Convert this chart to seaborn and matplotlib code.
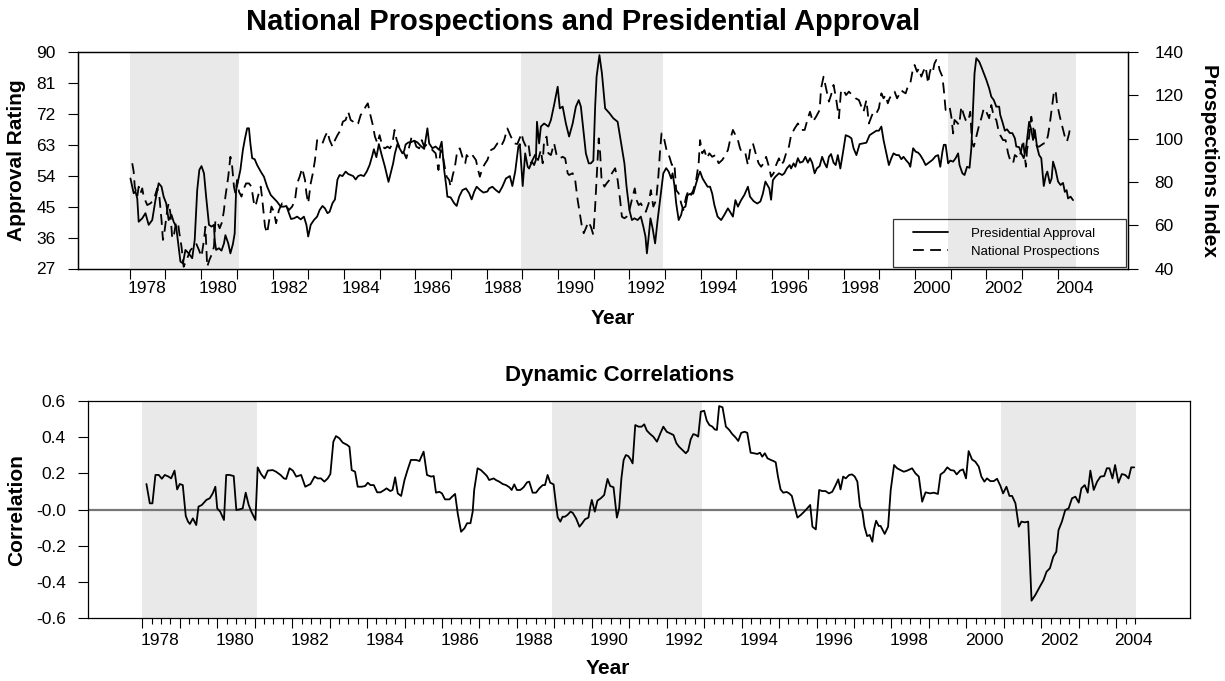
import matplotlib
matplotlib.use("Agg")
import matplotlib.pyplot as plt
import seaborn as sns
from matplotlib.lines import Line2D
from matplotlib.legend_handler import HandlerLine2D

sns.set_theme(style="white")
plt.rcParams['font.family'] = ['Liberation Sans', 'DejaVu Sans']
plt.rcParams.update({'text.color': 'black', 'axes.labelcolor': 'black',
                     'xtick.color': 'black', 'ytick.color': 'black'})

# ---------------- data ----------------
approval_year = [
    1978.02, 1978.11, 1978.16, 1978.21, 1978.25, 1978.35, 1978.44, 1978.53, 1978.63, 1978.72,
    1978.81, 1978.89, 1978.95, 1979.02, 1979.09, 1979.17, 1979.23, 1979.30, 1979.37, 1979.42,
    1979.49, 1979.56, 1979.65, 1979.75, 1979.82, 1979.89, 1979.95, 1980.01, 1980.08, 1980.14,
    1980.22, 1980.29, 1980.36, 1980.38, 1980.42, 1980.50, 1980.57, 1980.64, 1980.68, 1980.76,
    1980.82, 1980.89, 1980.94, 1980.98, 1981.04, 1981.10, 1981.17, 1981.23, 1981.29, 1981.34,
    1981.38, 1981.43, 1981.50, 1981.57, 1981.67, 1981.76, 1981.85, 1981.95, 1982.04, 1982.13,
    1982.23, 1982.32, 1982.39, 1982.46, 1982.52, 1982.60, 1982.69, 1982.79, 1982.88, 1982.95,
    1983.00, 1983.07, 1983.16, 1983.25, 1983.32, 1983.40, 1983.47, 1983.54, 1983.60, 1983.68,
    1983.75, 1983.82, 1983.88, 1983.96, 1984.05, 1984.12, 1984.19, 1984.26, 1984.33, 1984.40,
    1984.47, 1984.56, 1984.64, 1984.72, 1984.80, 1984.84, 1984.91, 1984.98, 1985.06, 1985.15,
    1985.25, 1985.31, 1985.38, 1985.43, 1985.50, 1985.56, 1985.64, 1985.69, 1985.73, 1985.81,
    1985.87, 1985.97, 1986.06, 1986.15, 1986.25, 1986.34, 1986.39, 1986.48, 1986.57, 1986.67,
    1986.74, 1986.81, 1986.87, 1986.90, 1986.99, 1987.09, 1987.16, 1987.23, 1987.32, 1987.42,
    1987.51, 1987.58, 1987.65, 1987.72, 1987.82, 1987.91, 1988.02,
    1988.07, 1988.16, 1988.26, 1988.35, 1988.44, 1988.54, 1988.65, 1988.72, 1988.80, 1988.89,
    1988.93, 1989.01, 1989.08, 1989.15, 1989.19, 1989.27, 1989.33, 1989.38, 1989.41, 1989.47,
    1989.52, 1989.61, 1989.73, 1989.80, 1989.89, 1989.99, 1990.05, 1990.13, 1990.22, 1990.31,
    1990.41, 1990.50, 1990.58, 1990.64, 1990.72, 1990.78, 1990.86, 1990.92, 1990.99, 1991.04,
    1991.08, 1991.16, 1991.23, 1991.32, 1991.44, 1991.55, 1991.67, 1991.76, 1991.86, 1991.92,
    1992.00, 1992.07, 1992.14, 1992.23, 1992.32, 1992.39, 1992.45, 1992.49, 1992.54, 1992.59,
    1992.65, 1992.72, 1992.79, 1992.87, 1992.95, 1993.03, 1993.10, 1993.17, 1993.21, 1993.26,
    1993.31, 1993.38, 1993.45, 1993.49, 1993.57, 1993.63, 1993.73, 1993.79, 1993.87, 1993.94,
    1993.98, 1994.05, 1994.13, 1994.19, 1994.26, 1994.32, 1994.38, 1994.47, 1994.57, 1994.66,
    1994.76, 1994.82, 1994.90, 1994.97, 1995.04, 1995.13, 1995.22, 1995.32, 1995.38, 1995.48,
    1995.58, 1995.67, 1995.74, 1995.81, 1995.88, 1995.92, 1995.97, 1996.02, 1996.09, 1996.19,
    1996.28, 1996.34, 1996.41, 1996.49, 1996.53, 1996.60, 1996.65, 1996.72, 1996.78, 1996.86,
    1996.93, 1997.00, 1997.06, 1997.12, 1997.19, 1997.25, 1997.33, 1997.40, 1997.47, 1997.53,
    1997.59, 1997.65, 1997.72, 1997.78, 1997.84, 1997.91, 1997.98, 1998.06, 1998.15, 1998.22,
    1998.28, 1998.36, 1998.45, 1998.54, 1998.64, 1998.73, 1998.82, 1998.92, 1998.99,
    1999.06, 1999.12, 1999.20, 1999.27, 1999.34, 1999.40, 1999.48, 1999.55, 1999.62, 1999.68,
    1999.76, 1999.83, 1999.87, 1999.95, 2000.02, 2000.09, 2000.15, 2000.23, 2000.30, 2000.39,
    2000.49, 2000.58, 2000.65, 2000.71, 2000.77, 2000.81, 2000.86, 2000.93, 2000.99, 2001.07,
    2001.14, 2001.21, 2001.25, 2001.33, 2001.39, 2001.46, 2001.53, 2001.58, 2001.63, 2001.67,
    2001.72, 2001.80, 2001.86, 2001.93, 2002.00, 2002.08, 2002.14, 2002.21, 2002.28, 2002.36,
    2002.39, 2002.45, 2002.52, 2002.58, 2002.66, 2002.73, 2002.80, 2002.84, 2002.92, 2002.98,
    2003.05, 2003.12, 2003.20, 2003.26, 2003.31, 2003.36, 2003.42, 2003.48, 2003.54, 2003.61,
    2003.67, 2003.71, 2003.78, 2003.83, 2003.87, 2003.94, 2004.01, 2004.08, 2004.15, 2004.20,
    2004.25, 2004.29, 2004.36, 2004.43,
]
approval = [
    53.2, 48.9, 49.4, 47.4, 40.6, 41.6, 43.1, 39.7, 41.1, 46.9,
    51.8, 50.8, 47.9, 46.0, 41.1, 42.6, 40.6, 39.2, 33.4, 29.0,
    28.5, 32.4, 31.4, 30.0, 35.3, 49.8, 55.7, 56.8, 54.7, 47.9,
    39.7, 39.2, 39.7, 35.3, 32.4, 32.9, 32.2, 34.3, 36.7, 34.3,
    31.4, 34.1, 37.2, 49.8, 52.7, 55.7, 61.5, 64.9, 67.8, 67.8,
    63.4, 59.1, 58.8, 57.1, 55.2, 53.7, 50.8, 48.4, 47.4, 46.4,
    45.0, 45.0, 45.2, 43.1, 41.4, 41.6, 42.1, 41.3, 42.1, 39.7,
    36.3, 39.7, 41.1, 42.1, 44.0, 45.2, 44.5, 43.1, 43.5, 46.0,
    47.1, 52.9, 54.2, 53.9, 55.2, 54.5, 54.2, 53.9, 52.9, 53.9,
    54.2, 53.9, 55.2, 57.1, 60.0, 61.7, 59.4, 63.2, 60.0, 56.6,
    52.2, 54.7, 57.6, 60.5, 63.2, 62.0, 60.5, 61.3, 63.1, 63.7,
    63.7, 64.2, 63.7, 62.7, 61.8, 67.8, 63.4, 62.0, 62.5, 61.5,
    63.9, 55.7, 50.8, 47.9, 47.7, 46.0, 45.2, 47.9, 49.8, 50.3,
    48.9, 47.1, 49.3, 50.8, 49.8, 49.1, 49.4,
    50.3, 50.8, 49.8, 49.1, 50.8, 53.2, 53.9, 51.0, 55.2, 62.6,
    63.2, 51.0, 60.5, 56.6, 56.1, 58.1, 57.1, 58.6, 69.7, 63.4,
    68.3, 69.2, 68.3, 70.2, 74.6, 79.9, 73.6, 74.1, 69.2, 65.4,
    69.2, 74.1, 76.0, 74.1, 66.4, 60.5, 57.6, 57.6, 58.4, 74.1,
    82.8, 89.1, 83.8, 73.6, 72.2, 70.7, 69.7, 63.9, 57.6, 50.8,
    44.0, 41.1, 41.6, 41.1, 42.1, 39.2, 36.3, 31.4, 36.3, 41.6,
    38.7, 34.3, 41.1, 47.9, 54.7, 56.2, 55.2, 53.2, 54.7, 51.3,
    46.0, 41.1, 42.6, 44.5, 45.0, 48.4, 48.8, 48.8, 51.8, 54.2,
    55.2, 53.2, 51.8, 50.8, 50.8, 48.8, 45.5, 42.1, 41.1, 42.6,
    44.5, 43.5, 42.1, 46.9, 45.0, 46.9, 48.4, 50.8, 47.9, 46.6,
    45.9, 46.5, 48.8, 52.3, 51.0, 50.3, 47.0, 52.7, 53.7, 54.7,
    54.2, 54.7, 56.1, 57.1, 56.1, 57.6, 56.6, 59.1, 57.8, 58.1,
    59.5, 57.8, 59.1, 57.8, 54.7, 56.1, 56.8, 59.5, 57.6, 56.4,
    59.5, 60.3, 57.8, 57.1, 60.0, 56.1, 60.5, 65.8, 65.4, 64.9,
    62.0, 60.0, 63.2, 63.4, 63.6, 65.8, 66.4, 67.1, 67.1,
    68.3, 64.4, 60.5, 57.1, 59.1, 60.5, 60.0, 60.0, 58.8, 59.5,
    58.4, 57.6, 56.6, 62.0, 61.0, 60.7, 60.0, 58.6, 57.1, 57.8,
    58.6, 59.7, 60.0, 56.6, 61.0, 63.0, 63.0, 57.6, 58.4, 58.1,
    59.1, 60.5, 57.1, 54.7, 54.2, 56.6, 56.3, 62.0, 74.1, 83.8,
    88.2, 87.2, 85.7, 83.8, 81.9, 79.4, 77.0, 76.0, 74.1, 74.1,
    71.7, 69.7, 67.1, 67.5, 66.4, 66.4, 64.9, 62.5, 62.3, 60.5,
    59.1, 62.6, 69.7, 67.3, 64.4, 67.3, 62.5, 60.0, 59.1, 51.0,
    54.2, 55.2, 51.8, 53.2, 58.1, 55.7, 52.3, 51.3, 51.9, 49.3,
    49.8, 47.4, 47.9, 46.9,
]

prospects_year = [
    1978.07, 1978.11, 1978.14, 1978.21, 1978.25, 1978.30, 1978.35, 1978.39, 1978.49, 1978.58,
    1978.67, 1978.77, 1978.83, 1978.89, 1978.93, 1978.98, 1979.05, 1979.09, 1979.14, 1979.19,
    1979.23, 1979.30, 1979.36, 1979.39, 1979.45, 1979.51, 1979.61, 1979.70, 1979.80, 1979.86,
    1979.94, 1980.01, 1980.08, 1980.12, 1980.17, 1980.23, 1980.31, 1980.36, 1980.40, 1980.45,
    1980.52, 1980.59, 1980.64, 1980.68, 1980.76, 1980.82, 1980.87, 1980.92, 1980.96, 1981.01,
    1981.06, 1981.13, 1981.20, 1981.26, 1981.34, 1981.41, 1981.48, 1981.52, 1981.59, 1981.67,
    1981.71, 1981.79, 1981.85, 1981.90, 1981.97, 1982.04, 1982.10, 1982.18, 1982.27, 1982.37,
    1982.46, 1982.55, 1982.63, 1982.69, 1982.76, 1982.83, 1982.91, 1982.95, 1983.00, 1983.07,
    1983.13, 1983.19, 1983.25, 1983.32, 1983.40, 1983.47, 1983.54, 1983.60, 1983.68, 1983.75,
    1983.82, 1983.91, 1983.97, 1984.05, 1984.12, 1984.19, 1984.26, 1984.33, 1984.40, 1984.47,
    1984.54, 1984.61, 1984.67, 1984.73, 1984.80, 1984.87, 1984.94, 1985.00, 1985.08, 1985.15,
    1985.22, 1985.29, 1985.36, 1985.42, 1985.48, 1985.55, 1985.62, 1985.69, 1985.75, 1985.83,
    1985.90, 1985.97, 1986.03, 1986.11, 1986.18, 1986.25, 1986.31, 1986.39, 1986.48, 1986.57,
    1986.65, 1986.71, 1986.76, 1986.84, 1986.88, 1986.95, 1986.99, 1987.04, 1987.11, 1987.18,
    1987.25, 1987.32, 1987.40, 1987.44, 1987.51, 1987.60, 1987.70, 1987.76, 1987.81, 1987.88,
    1987.96, 1988.02,
    1988.12, 1988.21, 1988.30, 1988.40, 1988.49, 1988.58, 1988.68, 1988.77, 1988.86, 1988.98,
    1989.02, 1989.10, 1989.17, 1989.24, 1989.31, 1989.38, 1989.44, 1989.52, 1989.57, 1989.61,
    1989.68, 1989.73, 1989.80, 1989.89, 1989.97, 1990.05, 1990.13, 1990.20, 1990.27, 1990.31,
    1990.41, 1990.48, 1990.55, 1990.61, 1990.67, 1990.72, 1990.78, 1990.85, 1990.92, 1990.99,
    1991.04, 1991.09, 1991.14, 1991.18, 1991.22, 1991.30, 1991.36, 1991.44, 1991.51, 1991.60,
    1991.67, 1991.74, 1991.79, 1991.86, 1991.92, 1992.00, 1992.09, 1992.15, 1992.20, 1992.26,
    1992.32, 1992.39, 1992.46, 1992.54, 1992.60, 1992.67, 1992.75, 1992.81, 1992.86, 1992.90,
    1992.98, 1993.04, 1993.12, 1993.19, 1993.26, 1993.31, 1993.38, 1993.45, 1993.51, 1993.59,
    1993.66, 1993.73, 1993.79, 1993.87, 1993.94, 1993.98, 1994.04, 1994.10, 1994.17, 1994.24,
    1994.32, 1994.41, 1994.50, 1994.60, 1994.66, 1994.76, 1994.82, 1994.90, 1994.97, 1995.04,
    1995.10, 1995.16, 1995.25, 1995.32, 1995.38, 1995.46, 1995.55, 1995.62, 1995.69, 1995.76,
    1995.83, 1995.91, 1995.97, 1996.04, 1996.11, 1996.19, 1996.25, 1996.32, 1996.39, 1996.47,
    1996.53, 1996.63, 1996.72, 1996.81, 1996.91, 1997.00, 1997.06, 1997.14, 1997.23, 1997.33,
    1997.37, 1997.44, 1997.51, 1997.59, 1997.65, 1997.72, 1997.79, 1997.87, 1997.93, 1998.00,
    1998.07, 1998.15, 1998.24, 1998.34, 1998.43, 1998.50, 1998.56, 1998.64, 1998.71, 1998.78,
    1998.84, 1998.92, 1998.99,
    1999.06, 1999.12, 1999.18, 1999.24, 1999.29, 1999.37, 1999.43, 1999.50, 1999.55, 1999.62,
    1999.66, 1999.74, 1999.80, 1999.87, 1999.93, 1999.99, 2000.06, 2000.11, 2000.18, 2000.23,
    2000.30, 2000.37, 2000.41, 2000.46, 2000.51, 2000.55, 2000.60, 2000.65, 2000.69, 2000.77,
    2000.81, 2000.86, 2000.91, 2000.97, 2001.02, 2001.07, 2001.11, 2001.16, 2001.24, 2001.30,
    2001.37, 2001.42, 2001.49, 2001.55, 2001.60, 2001.65, 2001.72, 2001.80, 2001.86, 2001.93,
    2002.00, 2002.08, 2002.14, 2002.21, 2002.28, 2002.33, 2002.39, 2002.47, 2002.54, 2002.61,
    2002.68, 2002.75, 2002.80, 2002.86, 2002.92, 2002.98, 2003.03, 2003.11, 2003.14, 2003.20,
    2003.26, 2003.31, 2003.36, 2003.42, 2003.48, 2003.54, 2003.61, 2003.67, 2003.73, 2003.78,
    2003.84, 2003.89, 2003.94, 2003.98, 2004.06, 2004.13, 2004.20, 2004.26, 2004.32, 2004.36,
]
prospects = [
    88.6, 84.7, 77.8, 73.2, 77.8, 74.7, 77.0, 73.2, 69.3, 70.1,
    71.6, 77.0, 73.2, 62.4, 53.2, 57.8, 67.0, 70.1, 65.5, 53.9,
    54.7, 61.6, 60.1, 56.3, 50.1, 40.8, 44.7, 48.5, 50.1, 51.6,
    48.5, 45.5, 53.2, 59.3, 40.8, 43.9, 47.0, 50.1, 62.4, 61.6,
    58.6, 61.6, 67.0, 73.2, 82.4, 91.6, 87.0, 77.8, 74.7, 80.9,
    75.5, 73.2, 77.0, 79.3, 79.3, 77.8, 70.1, 68.6, 73.2, 77.8,
    72.4, 59.3, 56.3, 61.6, 68.6, 66.2, 60.9, 67.0, 70.1, 69.3,
    67.0, 68.6, 71.6, 79.3, 82.4, 86.3, 80.9, 74.7, 70.1, 79.3,
    84.0, 90.1, 99.3, 99.3, 97.8, 100.9, 103.2, 99.3, 96.3, 99.3,
    101.6, 104.0, 107.8, 108.6, 112.4, 108.6, 107.8, 106.3, 107.0, 110.9,
    112.4, 114.8, 116.3, 111.7, 107.0, 100.9, 97.8, 101.6, 96.3, 95.5,
    96.3, 95.5, 97.8, 104.0, 99.3, 96.3, 94.7, 93.2, 90.9, 96.3,
    100.9, 99.3, 96.3, 95.5, 99.3, 96.3, 97.0, 96.3, 94.7, 93.2,
    85.5, 94.7, 93.2, 85.5, 82.4, 80.9, 77.8, 82.4, 87.0, 94.7,
    95.5, 91.6, 88.6, 92.4, 90.9, 92.4, 90.1, 85.5, 82.4, 86.3,
    88.6, 90.1,
    94.7, 95.5, 97.8, 96.3, 99.3, 104.7, 100.9, 97.8, 97.5, 102.4,
    99.3, 96.3, 97.8, 88.6, 90.9, 93.2, 90.1, 94.7, 88.6, 99.3,
    100.9, 93.2, 92.4, 97.8, 91.6, 90.9, 91.6, 90.9, 84.0, 83.2,
    84.0, 80.9, 71.6, 65.5, 59.3, 56.3, 58.6, 61.6, 59.3, 55.5,
    68.6, 84.0, 100.1, 93.2, 80.9, 77.8, 79.3, 80.9, 84.0, 86.3,
    80.9, 71.6, 63.9, 63.2, 63.9, 67.0, 73.2, 77.0, 71.6, 69.3,
    70.1, 67.8, 66.2, 70.1, 76.2, 68.6, 71.6, 82.4, 94.7, 102.4,
    99.3, 94.7, 91.6, 87.8, 88.6, 76.2, 74.7, 70.1, 67.0, 73.2,
    76.2, 74.0, 76.2, 80.9, 88.6, 99.3, 93.2, 94.7, 90.9, 93.2,
    91.6, 92.4, 88.6, 90.1, 91.6, 94.7, 99.3, 104.0, 101.6, 99.3,
    95.5, 93.2, 93.2, 87.8, 94.7, 97.8, 92.4, 88.6, 87.0, 88.6,
    91.6, 87.0, 82.4, 84.0, 87.8, 90.9, 87.8, 89.4, 93.2, 96.3,
    101.6, 104.7, 107.0, 104.0, 104.0, 109.4, 112.4, 107.8, 110.1, 113.2,
    123.2, 128.6, 123.2, 117.1, 120.1, 124.8, 118.6, 109.4, 122.4, 122.4,
    120.1, 121.7, 120.1, 118.6, 117.8, 114.8, 112.4, 117.8, 107.0, 110.1,
    112.4, 111.7, 114.0,
    120.9, 118.6, 120.1, 116.3, 118.6, 120.9, 121.7, 118.6, 120.1, 122.4,
    121.7, 120.9, 124.0, 125.5, 130.9, 134.0, 130.9, 132.4, 128.6, 130.9,
    133.2, 125.5, 130.1, 133.2, 131.7, 134.8, 136.3, 135.1, 131.7, 128.6,
    122.4, 113.2, 114.0, 114.8, 110.1, 102.4, 108.6, 107.8, 106.3, 114.8,
    110.9, 108.6, 107.8, 112.4, 97.8, 96.3, 100.9, 106.3, 109.4, 114.0,
    112.4, 109.4, 115.5, 110.1, 108.6, 104.7, 101.6, 99.3, 99.3, 93.2,
    89.4, 88.6, 92.4, 91.6, 90.9, 94.7, 99.3, 87.0, 94.7, 100.9,
    110.1, 105.5, 99.3, 96.3, 96.3, 97.0, 97.8, 97.8, 101.6, 107.0,
    114.8, 120.9, 122.4, 116.3, 110.1, 105.5, 100.9, 98.6, 102.4, 106.3,
]

corr_year = [
    1978.11, 1978.20, 1978.27, 1978.35, 1978.44, 1978.52, 1978.60, 1978.70, 1978.77, 1978.86,
    1978.93, 1979.00, 1979.08, 1979.16, 1979.22, 1979.27, 1979.35, 1979.44, 1979.50, 1979.59,
    1979.71, 1979.80, 1979.88, 1979.95, 1980.00, 1980.08, 1980.18, 1980.24, 1980.33, 1980.44,
    1980.51, 1980.60, 1980.68, 1980.76, 1980.84, 1980.91, 1981.02, 1981.08, 1981.17, 1981.26,
    1981.35, 1981.48, 1981.57, 1981.69, 1981.78, 1981.84, 1981.93, 1982.02, 1982.11, 1982.24,
    1982.35, 1982.49, 1982.60, 1982.68, 1982.77, 1982.86, 1982.95, 1983.02, 1983.10, 1983.17,
    1983.26, 1983.35, 1983.47, 1983.53, 1983.59, 1983.68, 1983.75, 1983.86, 1983.95, 1984.02,
    1984.09, 1984.18, 1984.27, 1984.36, 1984.46, 1984.52, 1984.62, 1984.68, 1984.75, 1984.82,
    1984.91, 1985.00, 1985.08, 1985.17, 1985.31, 1985.40, 1985.44, 1985.51, 1985.60, 1985.71,
    1985.78, 1985.84, 1985.93, 1986.00, 1986.08, 1986.20, 1986.27, 1986.35, 1986.42, 1986.51,
    1986.60, 1986.67, 1986.76, 1986.82, 1986.86, 1986.95, 1987.04, 1987.13, 1987.20, 1987.26,
    1987.38, 1987.44, 1987.53, 1987.62, 1987.71, 1987.80, 1987.86, 1987.93, 1988.00, 1988.09,
    1988.18, 1988.27, 1988.33, 1988.42, 1988.51, 1988.60, 1988.69, 1988.75, 1988.82, 1988.89,
    1988.98, 1989.04, 1989.09, 1989.16, 1989.22, 1989.28, 1989.35, 1989.43, 1989.49, 1989.58,
    1989.67, 1989.73, 1989.82, 1989.91, 1989.96, 1990.00, 1990.08, 1990.15, 1990.24, 1990.33,
    1990.42, 1990.49, 1990.58, 1990.67, 1990.73, 1990.79, 1990.85, 1990.91, 1990.97, 1991.03,
    1991.09, 1991.16, 1991.25, 1991.33, 1991.40, 1991.47, 1991.56, 1991.64, 1991.74, 1991.83,
    1991.91, 1992.00, 1992.09, 1992.18, 1992.26, 1992.33, 1992.42, 1992.51, 1992.57, 1992.64,
    1992.71, 1992.78, 1992.84, 1992.91, 1993.00, 1993.07, 1993.14, 1993.22, 1993.28, 1993.34,
    1993.40, 1993.49, 1993.58, 1993.67, 1993.75, 1993.84, 1993.91, 1993.99, 1994.08, 1994.15,
    1994.24, 1994.33, 1994.42, 1994.49, 1994.55, 1994.62, 1994.69, 1994.78, 1994.85, 1994.91,
    1994.97, 1995.04, 1995.11, 1995.20, 1995.27, 1995.34, 1995.40, 1995.49, 1995.58, 1995.67,
    1995.75, 1995.83, 1995.89, 1995.98, 1996.07, 1996.15, 1996.24, 1996.33, 1996.42, 1996.51,
    1996.58, 1996.64, 1996.71, 1996.78, 1996.87, 1996.95, 1997.02, 1997.09, 1997.16, 1997.22,
    1997.28, 1997.35, 1997.42, 1997.49, 1997.53, 1997.59, 1997.66,
    1997.71, 1997.82, 1997.91, 1997.98, 1998.07, 1998.15, 1998.24, 1998.33, 1998.42, 1998.55,
    1998.64, 1998.73, 1998.82, 1998.91, 1999.03, 1999.13, 1999.24, 1999.31, 1999.40, 1999.49,
    1999.58, 1999.67, 1999.74, 1999.83, 1999.91, 1999.99, 2000.06, 2000.15, 2000.24, 2000.33,
    2000.40, 2000.48, 2000.55, 2000.64, 2000.73, 2000.82, 2000.91, 2000.98, 2001.07, 2001.15,
    2001.22, 2001.31, 2001.40, 2001.47, 2001.56, 2001.65, 2001.74, 2001.84, 2001.96, 2002.06,
    2002.14, 2002.23, 2002.32, 2002.40, 2002.46, 2002.55, 2002.64, 2002.73, 2002.82, 2002.91,
    2003.00, 2003.07, 2003.16, 2003.24, 2003.31, 2003.40, 2003.49, 2003.58, 2003.68, 2003.75,
    2003.82, 2003.90, 2003.97, 2004.06, 2004.15, 2004.24, 2004.33, 2004.40, 2004.48,
]
correlation = [
    0.141, 0.034, 0.034, 0.191, 0.191, 0.170, 0.191, 0.182, 0.172, 0.215,
    0.111, 0.141, 0.135, -0.036, -0.067, -0.080, -0.049, -0.086, 0.016, 0.025,
    0.053, 0.062, 0.089, 0.126, 0.006, -0.012, -0.058, 0.191, 0.191, 0.185,
    -0.003, 0.001, 0.006, 0.093, 0.025, -0.012, -0.058, 0.233, 0.196, 0.172,
    0.215, 0.218, 0.209, 0.191, 0.172, 0.169, 0.228, 0.215, 0.182, 0.191,
    0.126, 0.141, 0.182, 0.172, 0.172, 0.154, 0.172, 0.196, 0.375, 0.406,
    0.394, 0.370, 0.357, 0.347, 0.218, 0.209, 0.126, 0.126, 0.130, 0.148,
    0.135, 0.135, 0.095, 0.095, 0.108, 0.117, 0.102, 0.108, 0.178, 0.089,
    0.075, 0.163, 0.218, 0.274, 0.274, 0.268, 0.288, 0.320, 0.191, 0.182,
    0.185, 0.093, 0.098, 0.089, 0.056, 0.056, 0.071, 0.086, -0.021, -0.123,
    -0.104, -0.076, -0.076, -0.012, 0.108, 0.228, 0.218, 0.200, 0.185, 0.163,
    0.172, 0.163, 0.154, 0.141, 0.135, 0.123, 0.108, 0.139, 0.108, 0.108,
    0.123, 0.150, 0.154, 0.093, 0.093, 0.117, 0.135, 0.135, 0.191, 0.148,
    0.139, 0.034, -0.043, -0.067, -0.040, -0.040, -0.030, -0.012, -0.018, -0.049,
    -0.095, -0.080, -0.054, -0.045, 0.016, 0.053, -0.012, 0.049, 0.062, 0.080,
    0.169, 0.130, 0.123, -0.045, 0.006, 0.172, 0.274, 0.301, 0.296, 0.279,
    0.255, 0.467, 0.458, 0.458, 0.471, 0.436, 0.417, 0.403, 0.375, 0.421,
    0.458, 0.430, 0.421, 0.412, 0.366, 0.347, 0.329, 0.311, 0.325, 0.388,
    0.417, 0.412, 0.403, 0.541, 0.546, 0.491, 0.467, 0.458, 0.443, 0.440,
    0.572, 0.565, 0.458, 0.440, 0.417, 0.398, 0.379, 0.424, 0.430, 0.424,
    0.314, 0.311, 0.307, 0.314, 0.292, 0.311, 0.283, 0.274, 0.268, 0.261,
    0.182, 0.111, 0.093, 0.097, 0.089, 0.075, 0.025, -0.045, -0.030, -0.012,
    0.006, 0.025, -0.095, -0.110, 0.108, 0.102, 0.102, 0.089, 0.098, 0.135,
    0.167, 0.111, 0.182, 0.172, 0.191, 0.194, 0.182, 0.154, 0.016, -0.006,
    -0.095, -0.147, -0.141, -0.178, -0.113, -0.062, -0.091,
    -0.091, -0.135, -0.095, 0.108, 0.246, 0.228, 0.218, 0.209, 0.215, 0.228,
    0.200, 0.182, 0.043, 0.095, 0.089, 0.093, 0.086, 0.194, 0.207, 0.233,
    0.218, 0.215, 0.194, 0.215, 0.222, 0.172, 0.323, 0.277, 0.264, 0.237,
    0.182, 0.154, 0.172, 0.157, 0.157, 0.170, 0.130, 0.089, 0.126, 0.075,
    0.075, 0.034, -0.095, -0.067, -0.071, -0.067, -0.504, -0.473, -0.427, -0.390,
    -0.344, -0.325, -0.261, -0.234, -0.114, -0.067, -0.003, 0.006, 0.062, 0.071,
    0.038, 0.117, 0.135, 0.093, 0.215, 0.108, 0.154, 0.182, 0.185, 0.228,
    0.228, 0.172, 0.246, 0.148, 0.196, 0.191, 0.172, 0.233, 0.233,
]

# shaded periods (decimal years)
shade_start = [1978.0, 1988.95, 2000.93]
shade_end = [1981.05, 1992.95, 2004.52]

approval_ticks = [27, 36, 45, 54, 63, 72, 81, 90]
prospect_ticks = [40, 60, 80, 100, 120, 140]
corr_ticks = [-0.6, -0.4, -0.2, 0.0, 0.2, 0.4, 0.6]
corr_tick_labels = ['-0.6', '-0.4', '-0.2', '-0.0', '0.2', '0.4', '0.6']
year_ticks = list(range(1978, 2005))
year_labels = list(range(1978, 2005, 2))

series_labels = ['Presidential Approval', 'National Prospections']
title_top = 'National Prospections and Presidential Approval'
title_bottom = 'Dynamic Correlations'

# ---------------- figure ----------------
W, H = 1225, 681
fig = plt.figure(figsize=(W / 100, H / 100), dpi=100)

def fx(px):
    return px / W

def fy(py):
    return 1 - py / H

ax1 = fig.add_axes([fx(78), fy(268.5), fx(1128) - fx(78), fy(52) - fy(268.5)])
ax2 = fig.add_axes([fx(88), fy(618), fx(1190) - fx(88), fy(401) - fy(618)])

XMIN, XMAX = 1976.55, 2005.97
SHADE = '#e9e9e9'
LW = 1.3
DASH = (0, (6, 3.5))
TICK_FS = 12.5
LABEL_FS = 15

for ax in (ax1, ax2):
    for s, e in zip(shade_start, shade_end):
        ax.axvspan(s, e, color=SHADE, lw=0, zorder=0)

# top panel
sns.lineplot(x=approval_year, y=approval, ax=ax1, color='black', lw=LW,
             estimator=None, sort=False, zorder=3)
ax1r = ax1.twinx()
sns.lineplot(x=prospects_year, y=prospects, ax=ax1r, color='black', lw=LW,
             linestyle=DASH, estimator=None, sort=False, zorder=3)

ax1.set_xlim(XMIN, XMAX)
ax1.set_ylim(27, 90)
ax1r.set_ylim(40, 140)
ax1.set_yticks(approval_ticks)
ax1.set_yticklabels([str(v) for v in approval_ticks])
ax1r.set_yticks(prospect_ticks)
ax1r.set_yticklabels([str(v) for v in prospect_ticks])
ax1.set_xticks(year_ticks)
ax1.set_xticklabels([])
for a in (ax1, ax1r):
    a.set_xlabel('')
    a.set_ylabel('')
ax1.tick_params(axis='both', which='major', direction='out', length=7, width=0.8,
                colors='black', labelsize=TICK_FS, pad=9, bottom=True, left=True)
ax1r.tick_params(axis='y', which='major', direction='out', length=7, width=0.8,
                 colors='black', labelsize=TICK_FS, pad=12, right=True)

sec1 = ax1.secondary_xaxis('bottom')
sec1.set_xticks([y + 0.47 for y in year_labels])
sec1.set_xticklabels([str(y) for y in year_labels])
sec1.tick_params(length=0, pad=9, labelsize=TICK_FS, colors='black')
sec1.spines['bottom'].set_visible(False)

handles = [Line2D([], [], color='black', lw=LW),
           Line2D([], [], color='black', lw=LW, linestyle=DASH)]
pad_labels = [s + '\u00a0' * 5 for s in series_labels]
leg = ax1.legend(handles, pad_labels, loc='lower right', fontsize=9.5,
                 frameon=True, fancybox=False, edgecolor='black', facecolor='none',
                 borderpad=0.65, labelspacing=0.45,
                 handlelength=3.5, handletextpad=1.75, borderaxespad=0.15,
                 handler_map={Line2D: HandlerLine2D(xpad=0.9)})
leg.get_frame().set_linewidth(0.9)
leg.set_zorder(5)

# bottom panel
ax2.axhline(0, color='#777777', lw=1.6, zorder=2)
sns.lineplot(x=corr_year, y=correlation, ax=ax2, color='black', lw=LW,
             estimator=None, sort=False, zorder=3)
ax2.set_xlim(XMIN, XMAX)
ax2.set_ylim(-0.6, 0.6)
ax2.set_yticks(corr_ticks)
ax2.set_yticklabels(corr_tick_labels)
ax2.set_xticks(year_ticks)
ax2.set_xticklabels([])
quarters = [y + q for y in year_ticks for q in (0.25, 0.5, 0.75)]
ax2.set_xticks([q for q in quarters if q <= 2004.5], minor=True)
ax2.set_xlabel('')
ax2.set_ylabel('')
ax2.tick_params(axis='both', which='major', direction='out', length=7, width=0.8,
                colors='black', labelsize=TICK_FS, pad=9, bottom=True, left=True)
ax2.tick_params(axis='x', which='minor', direction='out', length=4, width=0.8,
                colors='black', bottom=True)

sec2 = ax2.secondary_xaxis('bottom')
sec2.set_xticks([y + 0.47 for y in year_labels])
sec2.set_xticklabels([str(y) for y in year_labels])
sec2.tick_params(length=0, pad=11, labelsize=TICK_FS, colors='black')
sec2.spines['bottom'].set_visible(False)

for a in (ax1, ax1r, ax2):
    for sp in a.spines.values():
        sp.set_color('black')
        sp.set_linewidth(0.9)

# texts
fig.text(fx(583), fy(22), title_top, ha='center', va='center', fontsize=21, fontweight='bold')
fig.text(fx(620), fy(376), title_bottom, ha='center', va='center', fontsize=16, fontweight='bold')
fig.text(fx(17), fy(160), 'Approval Rating', rotation=90, ha='center', va='center',
         fontsize=LABEL_FS, fontweight='bold')
fig.text(fx(1210), fy(160), 'Prospections Index', rotation=270, ha='center', va='center',
         fontsize=LABEL_FS, fontweight='bold')
fig.text(fx(17), fy(510), 'Correlation', rotation=90, ha='center', va='center',
         fontsize=LABEL_FS, fontweight='bold')
fig.text(fx(613), fy(318), 'Year', ha='center', va='center', fontsize=LABEL_FS, fontweight='bold')
fig.text(fx(608), fy(668), 'Year', ha='center', va='center', fontsize=LABEL_FS, fontweight='bold')

fig.savefig('out.png', dpi=100)
